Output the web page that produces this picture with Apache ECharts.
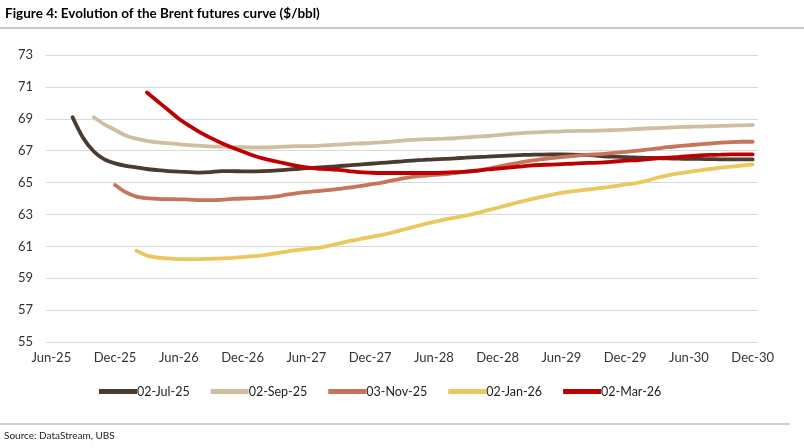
<!DOCTYPE html>
<html>
<head>
<meta charset="utf-8">
<script src="https://cdn.jsdelivr.net/npm/echarts@6/dist/echarts.min.js"></script>
<style>
html,body{margin:0;padding:0;background:#fff;}
#c{width:804px;height:448px;}
</style>
</head>
<body>
<div id="c"></div>
<script>
// Monthly contract months Jun-25 .. Dec-30
const monthNames = ['Jan','Feb','Mar','Apr','May','Jun','Jul','Aug','Sep','Oct','Nov','Dec'];
const categories = [];
for (let y = 25; y <= 30; y++) {
  for (let m = 0; m < 12; m++) {
    if (y === 25 && m < 5) continue;
    categories.push(monthNames[m] + '-' + y);
  }
}
const tickLabels = ['Jun-25','Dec-25','Jun-26','Dec-26','Jun-27','Dec-27','Jun-28','Dec-28','Jun-29','Dec-29','Jun-30','Dec-30'];
const seriesNames = ['02-Jul-25','02-Sep-25','03-Nov-25','02-Jan-26','02-Mar-26'];

// 02-Jul-25 curve starts at Aug-25
const curveJul25 = [null,null,
 69.1,67.8,66.95,66.45,66.2,66.05,65.95,65.85,65.78,65.72,65.68,65.65,65.62,65.65,65.72,65.72,65.7,65.7,65.72,65.75,65.8,65.85,
 65.9,65.93,65.98,66.03,66.08,66.13,66.18,66.23,66.28,66.33,66.38,66.42,66.46,66.48,66.52,66.56,66.6,66.63,66.66,66.69,66.72,66.74,
 66.75,66.76,66.76,66.75,66.73,66.7,66.65,66.62,66.6,66.57,66.55,66.53,66.52,66.5,66.49,66.48,66.47,66.46,66.46,66.45,66.45];
// 02-Sep-25 curve starts at Oct-25
const curveSep25 = [null,null,null,null,
 69.1,68.65,68.3,67.95,67.75,67.62,67.52,67.47,67.4,67.35,67.3,67.27,67.25,67.23,67.22,67.2,67.2,67.22,67.25,67.28,
 67.28,67.3,67.34,67.38,67.42,67.45,67.48,67.52,67.57,67.63,67.68,67.71,67.73,67.75,67.78,67.83,67.88,67.92,67.98,68.04,68.09,68.13,
 68.16,68.19,68.21,68.23,68.24,68.25,68.27,68.29,68.32,68.36,68.39,68.42,68.45,68.48,68.5,68.51,68.53,68.55,68.57,68.59,68.61];
// 03-Nov-25 curve starts at Dec-25
const curveNov25 = [null,null,null,null,null,null,
 64.85,64.4,64.12,64.02,63.98,63.96,63.95,63.93,63.9,63.9,63.92,63.97,64.0,64.02,64.05,64.12,64.22,64.32,
 64.4,64.46,64.52,64.6,64.68,64.78,64.88,64.98,65.12,65.25,65.35,65.42,65.48,65.53,65.6,65.68,65.75,65.85,65.98,66.12,66.24,66.36,
 66.45,66.53,66.6,66.66,66.72,66.76,66.8,66.86,66.92,66.99,67.06,67.14,67.22,67.28,67.34,67.4,67.45,67.5,67.54,67.56,67.56];
// 02-Jan-26 curve starts at Feb-26
const curveJan26 = [null,null,null,null,null,null,null,null,
 60.73,60.42,60.3,60.24,60.2,60.19,60.2,60.22,60.25,60.28,60.32,60.38,60.45,60.55,60.66,60.76,
 60.83,60.9,61.02,61.17,61.32,61.45,61.58,61.7,61.85,62.03,62.2,62.38,62.53,62.68,62.8,62.92,63.08,63.25,63.42,63.6,63.77,63.93,
 64.08,64.22,64.35,64.45,64.53,64.6,64.68,64.78,64.88,64.97,65.1,65.3,65.45,65.57,65.67,65.76,65.85,65.93,66.0,66.07,66.14];
// 02-Mar-26 curve starts at Mar-26
const curveMar26 = [null,null,null,null,null,null,null,null,null,
 70.65,70.1,69.55,69.0,68.55,68.15,67.8,67.48,67.2,66.95,66.7,66.5,66.35,66.2,66.06,
 65.95,65.88,65.84,65.79,65.72,65.65,65.62,65.6,65.6,65.6,65.6,65.6,65.6,65.62,65.65,65.68,65.74,65.82,65.88,65.94,66.0,66.06,
 66.1,66.13,66.16,66.18,66.22,66.24,66.27,66.32,66.37,66.4,66.45,66.52,66.57,66.6,66.65,66.7,66.73,66.75,66.77,66.77,66.77];

const colors = ['#4b3a2f','#cfbf9f','#c4755c','#ecc75e','#c00000'];
const allData = [curveJul25, curveSep25, curveNov25, curveJan26, curveMar26];

const chart = echarts.init(document.getElementById('c'), null, {renderer:'canvas'});
const FONT = 'Lato, "Noto Sans", sans-serif';

chart.setOption({
  animation: false,
  backgroundColor: '#fff',
  color: colors,
  textStyle: { fontFamily: FONT },
  graphic: [
    { type:'text', left: 5, top: 7, style:{ text:'Figure 4: Evolution of the Brent futures curve ($/bbl)', font:'bold 13.5px ' + FONT, fill:'#000' } },
    { type:'rect', shape:{ x:0, y:27, width:804, height:2 }, style:{ fill:'#c8c8c8' } },
    { type:'rect', shape:{ x:0, y:423, width:790, height:2 }, style:{ fill:'#d0d0d0' } },
    { type:'text', left: 4, top: 431, style:{ text:'Source: DataStream, UBS', font:'10px ' + FONT, fill:'#222' } }
  ],
  grid: { left: 46, right: 46, top: 55, bottom: 106, containLabel: false },
  legend: {
    bottom: 45,
    left: 94,
    icon: 'rect',
    itemWidth: 38,
    itemHeight: 5,
    itemGap: 21,
    textStyle: { fontSize: 12.5, color: '#222', fontFamily: FONT, padding: [0,0,0,-5] },
    data: seriesNames
  },
  xAxis: {
    type: 'category',
    data: categories,
    boundaryGap: true,
    axisLine: { show: false },
    axisTick: { show: false },
    axisLabel: {
      interval: function(i, v){ return tickLabels.indexOf(v) >= 0; },
      fontSize: 13, color: '#333', margin: 9, fontFamily: FONT
    },
    splitLine: { show: false }
  },
  yAxis: {
    type: 'value',
    min: 55, max: 73, interval: 2,
    axisLine: { show: false },
    axisTick: { show: false },
    axisLabel: { fontSize: 13, color: '#333', margin: 13, fontFamily: FONT },
    splitLine: { lineStyle: { color: '#d9d9d9', width: 1 } }
  },
  series: seriesNames.map((n, i) => ({
    name: n,
    type: 'line',
    data: allData[i],
    smooth: 0.3,
    showSymbol: false,
    symbol: 'none',
    connectNulls: false,
    lineStyle: { width: 3.8, color: colors[i], cap: 'round' },
    itemStyle: { color: colors[i] },
    z: 2 + i
  }))
});
</script>
</body>
</html>
